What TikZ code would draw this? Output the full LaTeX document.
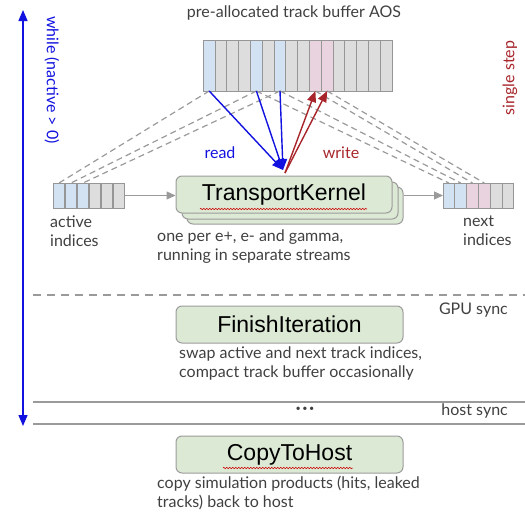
\documentclass[tikz,border=0pt]{standalone}
\usepackage{fontspec}
\setmainfont{Lato}
\newfontfamily\boxfont{Liberation Sans}
\usetikzlibrary{arrows.meta, positioning, decorations.pathmorphing}
\definecolor{cellblue}{HTML}{D3E2F2}
\definecolor{cellpink}{HTML}{E8D3DE}
\definecolor{cellgray}{HTML}{DDDDDD}
\definecolor{celledge}{HTML}{969696}
\definecolor{kernfill}{HTML}{DCE9D5}
\definecolor{kernedge}{HTML}{9C9C9C}
\definecolor{loopblue}{HTML}{1212E0}
\definecolor{stepred}{HTML}{A8262B}
\definecolor{labgray}{HTML}{404040}
\definecolor{syncgray}{HTML}{9A9A9A}

\tikzset{
  cell/.style={draw=celledge, line width=1pt, minimum width=11.8pt, minimum height=25pt, inner sep=0pt, outer sep=0pt},
  kernel/.style={draw=kernedge, fill=kernfill, rounded corners=6pt, line width=1pt,
                 minimum width=216pt, minimum height=37pt, inner sep=0pt,
                 font=\boxfont\fontsize{23}{23}\selectfont},
  wide/.style={minimum width=227pt},
  lab/.style={text=labgray, font=\fontsize{16}{18.5}\selectfont, align=left, inner sep=0pt},
  flow/.style={draw=syncgray, line width=1.2pt, -{Triangle[length=9pt, width=8pt]}},
  readarr/.style={draw=loopblue, line width=1.4pt, -{Triangle[length=11pt, width=9pt]}},
  writearr/.style={draw=stepred, line width=1.4pt, -{Triangle[length=11pt, width=9pt]}},
  idxline/.style={draw=syncgray, line width=1.2pt, dash pattern=on 6pt off 4pt},
  spell/.style={draw=red!80!black, line width=0.5pt, decorate,
                decoration={zigzag, segment length=3pt, amplitude=0.8pt}}
}

\begin{document}
\begin{tikzpicture}[x=1pt, y=-1pt]
  \useasboundingbox (0,0) rectangle (525,514);

  % track buffer
  \node[lab] (title) at (294,13) {pre-allocated track buffer AOS};
  \foreach \i/\cl in {0/cellblue, 1/cellgray, 2/cellgray, 3/cellgray, 4/cellblue, 5/cellgray,
                      6/cellblue, 7/cellgray, 8/cellgray, 9/cellpink, 10/cellpink, 11/cellgray,
                      12/cellgray, 13/cellgray, 14/cellgray, 15/cellgray}
    \node[cell, fill=\cl, minimum height=51pt] (top\i) at ({203.3+11.8*(\i+0.5)},65.5) {};

  % index arrays
  \foreach \i/\cl in {0/cellblue, 1/cellblue, 2/cellblue, 3/cellgray, 4/cellgray, 5/cellgray}
    \node[cell, fill=\cl] (act\i) at ({53+12*(\i+0.5)},195.5) {};
  \foreach \i/\cl in {0/cellblue, 1/cellblue, 2/cellpink, 3/cellpink, 4/cellgray, 5/cellgray}
    \node[cell, fill=\cl] (nxt\i) at ({443+11.8*(\i+0.5)},195.5) {};

  % which slots the indices point to
  \foreach \t/\a in {0/0, 4/1, 6/2}
    \draw[idxline] (top\t.south) -- (act\a.north);
  \foreach \t/\n in {4/0, 6/1, 9/2, 10/3}
    \draw[idxline] (top\t.south) -- (nxt\n.north);

  % kernels (one per particle type)
  \node[kernel] (tkb) at (295,205.5) {};
  \node[kernel] (tkm) at (290,200.5) {};
  \node[kernel] (tk) at (284,194.5) {TransportKernel};
  \draw[spell] (200,209) -- (367,209);

  \coordinate (hit) at (283,170);
  \coordinate (src) at (285,173);
  \foreach \t in {0,4,6}
    \draw[readarr] (top\t.south) -- (hit);
  \foreach \t in {9,10}
    \draw[writearr] (src) -- (top\t.south);
  \node[font=\fontsize{16}{16}\selectfont, text=loopblue] (rd) at (220,153) {read};
  \node[font=\fontsize{16}{16}\selectfont, text=stepred] (wr) at (341,153) {write};

  \draw[flow] (act5.east) -- (act5.east -| tk.west);
  \draw[flow] (tkb.east |- nxt0.west) -- (nxt0.west);

  \node[lab, anchor=north west] (actlab) at (50,216) {active\\indices};
  \node[lab, anchor=north west] (nxtlab) at (463,216) {next\\indices};
  \node[lab, anchor=north west] (tknote) at (157,230) {one per e+, e- and gamma,\\running in separate streams};

  % GPU sync
  \coordinate (gs0) at (33,295);
  \coordinate (gs1) at (525,295);
  \draw[draw=syncgray, line width=2pt, dash pattern=on 8pt off 6pt] (gs0) -- (gs1);
  \node[lab, anchor=east] (gpusync) at (508,310) {GPU sync};

  \node[kernel, wide] (fi) at (289.5,324.5) {FinishIteration};
  \node[lab, anchor=north west] (finote) at (179,347) {swap active and next track indices,\\compact track buffer occasionally};

  % host sync
  \coordinate (hs0) at (33,402);
  \coordinate (hs1) at (525,402);
  \coordinate (hs2) at (33,424);
  \coordinate (hs3) at (525,424);
  \draw[draw=syncgray, line width=2pt] (hs0) -- (hs1);
  \draw[draw=syncgray, line width=2pt] (hs2) -- (hs3);
  \node[lab, font=\fontsize{9}{9}\selectfont] (dots) at (305,409) {\textbullet\,\textbullet\,\textbullet};
  \node[lab, anchor=east] (hostsync) at (508,411) {host sync};

  \node[kernel, wide] (cth) at (289.5,454.5) {CopyToHost};
  \draw[spell] (223,468) -- (353,468);
  \node[lab, anchor=north west] (cthnote) at (157,476) {copy simulation products (hits, leaked\\tracks) back to host};

  % loop and step markers
  \coordinate (lptop) at (23,10);
  \coordinate (lpbot) at (23,426);
  \draw[draw=loopblue, line width=1.4pt, {Triangle[length=11pt, width=9pt]}-{Triangle[length=11pt, width=9pt]}] (lpbot) -- (lptop);
  \node[font=\fontsize{16}{16}\selectfont, text=loopblue, rotate=-90] (loop) at (52,80) {while (nactive > 0)};
  \node[font=\fontsize{16}{16}\selectfont, text=stepred, rotate=90] (step) at (510,78) {single step};
\end{tikzpicture}
\end{document}
